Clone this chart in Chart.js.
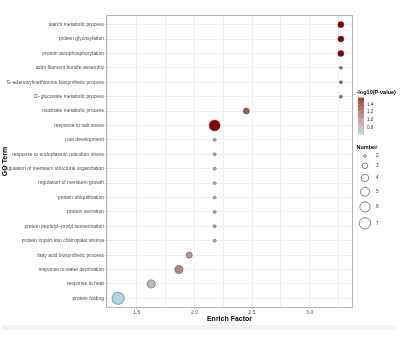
<!DOCTYPE html>
<html>
<head>
<meta charset="utf-8">
<script src="https://cdn.jsdelivr.net/npm/chart.js@4"></script>
<style>
  body { margin: 0; background: #fff; }
  #wrap { position: relative; width: 400px; height: 350px; }
  #band { position: absolute; left: 2px; top: 325px; width: 394px; height: 5px; background: #f3f3f3; }
  canvas { position: absolute; left: 0; top: 0; }
</style>
</head>
<body>
<div id="wrap">
  <div id="band"></div>
  <canvas id="myChart" width="400" height="350"></canvas>
</div>
<script>
// GO terms, top to bottom
var terms = [
  'starch metabolic process',
  'protein glycosylation',
  'protein autophosphorylation',
  'actin filament bundle assembly',
  'S\u2212adenosylmethionine biosynthetic process',
  'D\u2212gluconate metabolic process',
  'isocitrate metabolic process',
  'response to salt stress',
  'root development',
  'response to endoplasmic reticulum stress',
  'regulation of meristem structural organization',
  'regulation of meristem growth',
  'protein ubiquitination',
  'protein secretion',
  'protein peptidyl\u2212prolyl isomerization',
  'protein import into chloroplast stroma',
  'fatty acid biosynthetic process',
  'response to water deprivation',
  'response to heat',
  'protein folding'
];
var enrichFactor = [3.27, 3.27, 3.27, 3.27, 3.27, 3.27, 2.45, 2.175, 2.175, 2.175,
                    2.175, 2.175, 2.175, 2.175, 2.175, 2.175, 1.955, 1.865, 1.625, 1.338];
var geneNumber   = [3, 3, 3, 2, 2, 2, 3, 6, 2, 2, 2, 2, 2, 2, 2, 2, 3, 4, 4, 7];
var logP         = [1.57, 1.57, 1.57, 1.2, 1.2, 1.2, 1.25, 1.57, 0.78, 0.78,
                    0.78, 0.78, 0.78, 0.78, 0.78, 0.78, 0.93, 1.03, 0.76, 0.62];
var xTicks = [1.5, 2.0, 2.5, 3.0];
var colorTicks = [1.4, 1.2, 1.0, 0.8];
var sizeKeys = [2, 3, 4, 5, 6, 7];

var FONT = '"Liberation Sans", Arial, sans-serif';

// lightblue -> darkred, interpolated in Lab like ggplot
function lin(c) { c /= 255; return c <= 0.04045 ? c / 12.92 : Math.pow((c + 0.055) / 1.055, 2.4); }
function unlin(c) { c = c <= 0.0031308 ? 12.92 * c : 1.055 * Math.pow(c, 1 / 2.4) - 0.055; return Math.round(Math.max(0, Math.min(1, c)) * 255); }
function toLab(rgb) {
  var r = lin(rgb[0]), g = lin(rgb[1]), b = lin(rgb[2]);
  var f = function (t) { return t > 0.008856 ? Math.cbrt(t) : 7.787 * t + 16 / 116; };
  var fx = f((0.4124 * r + 0.3576 * g + 0.1805 * b) / 0.95047);
  var fy = f(0.2126 * r + 0.7152 * g + 0.0722 * b);
  var fz = f((0.0193 * r + 0.1192 * g + 0.9505 * b) / 1.08883);
  return [116 * fy - 16, 500 * (fx - fy), 200 * (fy - fz)];
}
function fromLab(lab) {
  var fy = (lab[0] + 16) / 116, fx = fy + lab[1] / 500, fz = fy - lab[2] / 200;
  var inv = function (t) { return t > 0.206893 ? t * t * t : (t - 16 / 116) / 7.787; };
  var X = inv(fx) * 0.95047, Y = inv(fy), Z = inv(fz) * 1.08883;
  return 'rgb(' + unlin(3.2406 * X - 1.5372 * Y - 0.4986 * Z) + ',' +
    unlin(-0.9689 * X + 1.8758 * Y + 0.0415 * Z) + ',' +
    unlin(0.0557 * X - 0.2040 * Y + 1.0570 * Z) + ')';
}
var labLow = toLab([173, 216, 230]), labHigh = toLab([139, 0, 0]);
var pMin = Math.min.apply(null, logP), pMax = Math.max.apply(null, logP);
function colorFor(v) {
  var t = (v - pMin) / (pMax - pMin);
  return fromLab([0, 1, 2].map(function (i) { return labLow[i] + (labHigh[i] - labLow[i]) * t; }));
}
// area-proportional size
function radiusFor(n) { return Math.sqrt(2.2 + (n - 2) * 7.0); }

var xMin = Math.min.apply(null, enrichFactor), xMax = Math.max.apply(null, enrichFactor);
var xPad = (xMax - xMin) * 0.05;

var points = terms.map(function (t, i) {
  return { x: enrichFactor[i], y: i, r: radiusFor(geneNumber[i]) };
});

var legendPlugin = {
  id: 'ggLegend',
  afterDraw: function (chart) {
    var ctx = chart.ctx, a = chart.chartArea;
    ctx.save();
    // panel border
    ctx.strokeStyle = '#b3b3b3';
    ctx.lineWidth = 1;
    ctx.strokeRect(a.left - 0.5, a.top - 0.5, a.right - a.left + 1, a.bottom - a.top + 1);

    // colour bar
    var bx = 358, bw = 6, bTop = 97.7, bBot = 134.3;
    ctx.fillStyle = '#000';
    ctx.font = 'bold 5.5px ' + FONT;
    ctx.textBaseline = 'middle';
    ctx.textAlign = 'left';
    ctx.fillText('-log10(P-value)', 356.5, 92);
    for (var y = bTop; y < bBot; y += 0.5) {
      var v = pMax - (y - bTop) / (bBot - bTop) * (pMax - pMin);
      ctx.fillStyle = colorFor(v);
      ctx.fillRect(bx, y, bw, 0.6);
    }
    ctx.font = '4.6px ' + FONT;
    colorTicks.forEach(function (v) {
      var ty = bTop + (pMax - v) / (pMax - pMin) * (bBot - bTop);
      ctx.strokeStyle = 'rgba(255,255,255,0.9)';
      ctx.lineWidth = 0.5;
      ctx.beginPath();
      ctx.moveTo(bx, ty); ctx.lineTo(bx + 1.2, ty);
      ctx.moveTo(bx + bw - 1.2, ty); ctx.lineTo(bx + bw, ty);
      ctx.stroke();
      ctx.fillStyle = '#333';
      ctx.fillText(v.toFixed(1), 367, ty);
    });

    // size legend
    ctx.fillStyle = '#000';
    ctx.font = 'bold 5.5px ' + FONT;
    ctx.fillText('Number', 356.5, 147);
    ctx.font = '4.6px ' + FONT;
    var cy = 156, prevR = 0;
    sizeKeys.forEach(function (n, i) {
      var r = radiusFor(n) * 0.93;
      if (i > 0) cy += prevR + r + 5.6;
      ctx.strokeStyle = '#333';
      ctx.lineWidth = 0.6;
      ctx.beginPath();
      ctx.arc(365, cy, r, 0, Math.PI * 2);
      ctx.stroke();
      ctx.fillStyle = '#333';
      ctx.fillText(String(n), 376, cy);
      prevR = r;
    });
    ctx.restore();
  }
};

var ctx = document.getElementById('myChart').getContext('2d');
var chart = new Chart(ctx, {
  type: 'bubble',
  data: {
    datasets: [{
      data: points,
      backgroundColor: logP.map(colorFor),
      borderColor: 'rgba(50,50,50,0.75)',
      borderWidth: 0.6
    }]
  },
  options: {
    responsive: false,
    animation: false,
    layout: { padding: { left: 1, top: 16, right: 48, bottom: 26.8 } },
    plugins: { legend: { display: false }, tooltip: { enabled: false } },
    scales: {
      x: {
        type: 'linear',
        min: xMin - xPad,
        max: xMax + xPad,
        afterBuildTicks: function (s) {
          var t = [];
          for (var v = 1.25; v <= 3.26; v += 0.25) t.push({ value: Math.round(v * 100) / 100 });
          s.ticks = t;
        },
        afterFit: function (s) { s.height = 16.2; },
        grid: {
          color: '#efefef',
          lineWidth: 1,
          tickLength: 2,
          tickColor: function (c) {
            return xTicks.indexOf(c.tick.value) >= 0 ? '#b3b3b3' : 'rgba(0,0,0,0)';
          }
        },
        border: { display: false },
        ticks: {
          autoSkip: false,
          maxRotation: 0,
          padding: 0.5,
          color: '#4d4d4d',
          font: { family: FONT, size: 5 },
          callback: function (v) { return xTicks.indexOf(v) >= 0 ? v.toFixed(1) : ''; }
        },
        title: {
          display: true,
          text: 'Enrich Factor',
          color: '#000',
          padding: 0,
          font: { family: FONT, size: 7, weight: 'bold' }
        }
      },
      y: {
        type: 'linear',
        reverse: true,
        min: -0.6,
        max: terms.length - 0.4,
        afterBuildTicks: function (s) {
          s.ticks = terms.map(function (t, i) { return { value: i }; });
        },
        afterFit: function (s) { s.width = 106; },
        grid: { color: '#efefef', lineWidth: 1, tickLength: 2, tickColor: '#b3b3b3' },
        border: { display: false },
        ticks: {
          autoSkip: false,
          padding: 1,
          color: '#4d4d4d',
          font: { family: FONT, size: 5 },
          callback: function (v) { return terms[v] || ''; }
        },
        title: {
          display: true,
          text: 'GO Term',
          color: '#000',
          padding: 0,
          font: { family: FONT, size: 7, weight: 'bold' }
        }
      }
    }
  },
  plugins: [legendPlugin]
});
</script>
</body>
</html>
